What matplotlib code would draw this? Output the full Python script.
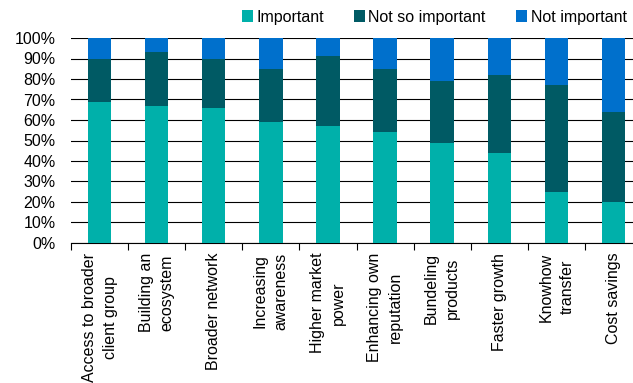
"""Stacked percentage bars: importance of partnership motives."""

import matplotlib

matplotlib.use("Agg")
import matplotlib.pyplot as plt
import numpy as np

categories = [
    "Access to broader\nclient group",
    "Building an\necosystem",
    "Broader network",
    "Increasing\nawareness",
    "Higher market\npower",
    "Enhancing own\nreputation",
    "Bundeling\nproducts",
    "Faster growth",
    "Knowhow\ntransfer",
    "Cost savings",
]
important = [69, 67, 66, 59, 57, 54, 49, 44, 25, 20]
not_so_important = [21, 26, 24, 26, 34, 31, 30, 38, 52, 44]
not_important = [10, 7, 10, 15, 9, 15, 21, 18, 23, 36]

series_names = ["Important", "Not so important", "Not important"]
colors = ["#00b0aa", "#005a64", "#0070cc"]

plt.rcParams["font.family"] = ["Liberation Sans", "DejaVu Sans"]
plt.rcParams["font.size"] = 11.5

fig = plt.figure(figsize=(6.33, 3.83), dpi=100)
# plot area runs slightly past the right edge, as in the cropped original
ax = fig.add_axes([71 / 633, 1 - 243 / 383, 571 / 633, 205 / 383])

x = np.arange(len(categories))
bottom = np.zeros(len(categories))
for name, vals, color in zip(series_names, [important, not_so_important, not_important], colors):
    ax.bar(x, vals, width=0.41, bottom=bottom, color=color, label=name, zorder=3)
    bottom += np.array(vals)

ax.set_xlim(-0.5, len(categories) - 0.5)
ax.set_ylim(0, 100)
ax.set_yticks(np.arange(0, 101, 10))
ax.set_yticklabels([f"{v}%" for v in range(0, 101, 10)])
ax.yaxis.grid(True, color="black", lw=0.8, zorder=0)
ax.tick_params(axis="y", length=0, pad=11)

ax.set_xticks(x)
ax.set_xticklabels(categories, rotation=90, ha="center", va="top",
                   linespacing=1.5, multialignment="center")
ax.set_xticks(np.arange(-0.5, len(categories), 1), minor=True)
ax.tick_params(axis="x", which="major", length=0, pad=7)
ax.tick_params(axis="x", which="minor", length=5, width=0.8, direction="out")

for side in ["left", "right", "top"]:
    ax.spines[side].set_visible(False)
ax.spines["bottom"].set_linewidth(0.8)

fig.legend(
    loc="upper right",
    bbox_to_anchor=(1.005, 1.0),
    ncol=3,
    frameon=False,
    handlelength=0.7,
    handleheight=0.7,
    handletextpad=0.2,
    columnspacing=1.9,
    borderaxespad=0.2,
)

fig.savefig("out.png", dpi=100)
